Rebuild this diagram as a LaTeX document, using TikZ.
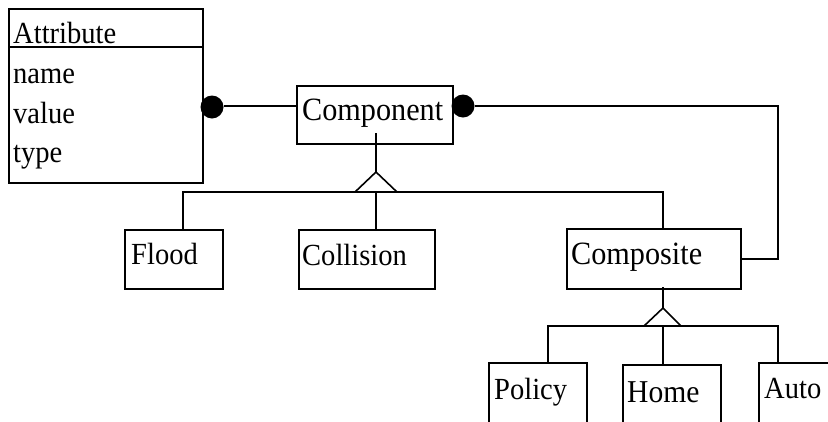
\documentclass[tikz,border=0pt]{standalone}
\usepackage{fontspec}
\setmainfont[FakeStretch=0.93]{Liberation Serif}
\begin{document}
\begin{tikzpicture}[x=1pt,y=-1pt,
  box/.style={draw, line width=1.8pt, rectangle, inner sep=0pt},
  txt/.style={anchor=base west, inner sep=0pt, font=\fontsize{30.7}{32}\selectfont},
  bigtxt/.style={txt, font=\fontsize{32.5}{34}\selectfont},
  conn/.style={line width=1.6pt},
  dot/.style={circle, fill=black, inner sep=0pt, minimum size=23pt}]
\useasboundingbox (0,0) rectangle (828,421);
\clip (0,0) rectangle (828,421);
% boxes
\node[box, minimum width=194pt, minimum height=174pt] (attr) at (106,96) {};
\draw[line width=1.6pt] (attr.west |- 0,47) -- (attr.east |- 0,47);
\node[box, minimum width=156pt, minimum height=58pt] (comp) at (375,115) {};
\node[box, minimum width=98pt, minimum height=59pt] (flood) at (174,259.5) {};
\node[box, minimum width=136pt, minimum height=59pt] (coll) at (367,259.5) {};
\node[box, minimum width=174pt, minimum height=60pt] (composite) at (654,259) {};
\node[box, minimum width=98pt, minimum height=74pt] (policy) at (538,400) {};
\node[box, minimum width=98pt, minimum height=72pt] (home) at (672,401) {};
\node[box, minimum width=92pt, minimum height=74pt] (auto) at (805,400) {};
% texts
\node[txt] (tattr) at (13,43) {Attribute};
\node[txt] (tname) at (13,83) {name};
\node[txt] (tvalue) at (13,123) {value};
\node[txt] (ttype) at (13,162) {type};
\node[bigtxt] (tcomp) at (302,120) {Component};
\node[txt] (tflood) at (131,264.5) {Flood};
\node[txt] (tcoll) at (302,265) {Collision};
\node[bigtxt] (tcomposite) at (571,264) {Composite};
\node[txt] (tpolicy) at (494,399) {Policy};
\node[txt, font=\fontsize{31.8}{33}\selectfont] (thome) at (627,402) {Home};
\node[txt] (tauto) at (764,398) {Auto};
% aggregation dots
\node[dot] (d1) at (212,107) {};
\node[dot] (d2) at (463,106) {};
\draw[conn] (d1.east |- 0,106) -- (comp.west |- 0,106);
\coordinate (c1) at (778,106);
\draw[conn] (d2.east |- c1) -- (c1) |- (composite.east);
% generalization 1
\coordinate (s1) at (376,133);
\coordinate (apex1) at (376,172);
\coordinate (t1l) at (355,192);
\coordinate (t1r) at (397,192);
\coordinate (b1l) at (183,192);
\coordinate (b1r) at (663,192);
\draw[conn] (s1) -- (apex1);
\draw[conn] (t1l) -- (apex1) -- (t1r);
\draw[conn] (flood.north -| b1l) -- (b1l) -- (b1r) -- (composite.north -| b1r);
\draw[conn] (coll.north -| apex1) -- (apex1 |- b1l);
% generalization 2
\coordinate (s2) at (663,287);
\coordinate (apex2) at (663,308);
\coordinate (t2l) at (644,326);
\coordinate (t2r) at (681,326);
\coordinate (b2l) at (548,326);
\coordinate (b2r) at (778,326);
\draw[conn] (s2) -- (apex2);
\draw[conn] (t2l) -- (apex2) -- (t2r);
\draw[conn] (policy.north -| b2l) -- (b2l) -- (b2r) -- (auto.north -| b2r);
\draw[conn] (home.north -| apex2) -- (apex2 |- b2l);
\end{tikzpicture}
\end{document}
